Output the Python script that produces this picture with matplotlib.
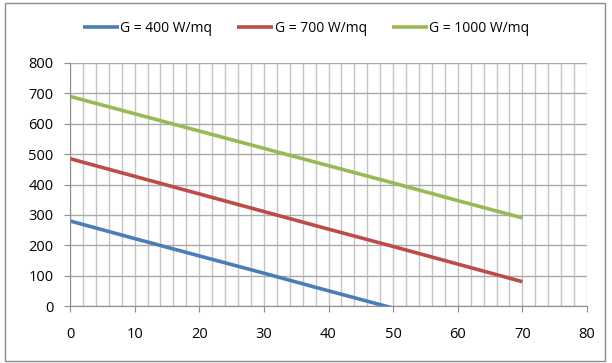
import matplotlib
matplotlib.use('Agg')
import matplotlib.pyplot as plt
from matplotlib.patches import Rectangle

# dati
x = [0, 10, 20, 30, 40, 50, 60, 70]
p_400 = [280, 222, 165, 108, 50, -7, -64, -121]
p_700 = [485, 427, 369, 311, 253, 196, 138, 80]
p_1000 = [690, 633, 576, 519, 462, 405, 347, 290]
etichette = ['G = 400 W/mq', 'G = 700 W/mq', 'G = 1000 W/mq']
colori = ['#4A7EBB', '#BE4B48', '#98B954']

plt.rcParams['font.family'] = ['Open Sans', 'DejaVu Sans']

fig = plt.figure(figsize=(6.12, 3.63), dpi=100)
ax = fig.add_axes([70 / 612, 1 - 306 / 363, 517 / 612, 243 / 363])

for serie, lab, col in zip([p_400, p_700, p_1000], etichette, colori):
    ax.plot(x, serie, color=col, lw=2.6, label=lab, solid_capstyle='butt')

ax.set_xlim(0, 80)
ax.set_ylim(0, 800)
ax.set_xticks(range(0, 81, 10))
ax.set_xticks(range(0, 81, 2), minor=True)
ax.set_yticks(range(0, 801, 100))
ax.grid(which='both', axis='x', color='#c4c4c4', lw=1)
ax.grid(which='major', axis='y', color='#aaaaaa', lw=1)
ax.set_axisbelow(True)
for s in ['top', 'right']:
    ax.spines[s].set_visible(False)
for s in ['left', 'bottom']:
    ax.spines[s].set_color('#8c8c8c')
ax.tick_params(axis='both', which='major', direction='out', length=4, color='#8c8c8c',
               labelsize=10.5, labelcolor='black')
ax.tick_params(axis='x', which='minor', length=0)
ax.tick_params(axis='x', pad=11)
ax.tick_params(axis='y', pad=8)

fig.legend(loc='center', bbox_to_anchor=(0.5, 1 - 28 / 363), ncol=3, frameon=False,
           fontsize=10, handlelength=2.6, handletextpad=0.1, columnspacing=1.8)

fig.patches.append(Rectangle((5 / 612, 2 / 363), 600 / 612, 358 / 363, transform=fig.transFigure,
                             fill=False, edgecolor='#8c8c8c', lw=1))

plt.savefig('out.png', dpi=100)
plt.close()
